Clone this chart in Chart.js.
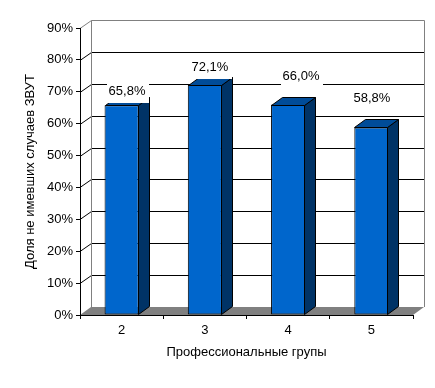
<!DOCTYPE html>
<html>
<head>
<meta charset="utf-8">
<script src="https://cdn.jsdelivr.net/npm/chart.js@4/dist/chart.umd.min.js"></script>
<style>
html,body{margin:0;padding:0;background:#fff;}
#wrap{width:435px;height:388px;}
</style>
</head>
<body>
<div id="wrap"><canvas id="c" width="435" height="388"></canvas></div>
<script>
// ---- data ----
const categories = ['2', '3', '4', '5'];
const shareValues = [65.8, 72.1, 66.0, 58.8];
const yTickValues = [0, 10, 20, 30, 40, 50, 60, 70, 80, 90];
const xAxisTitle = 'Профессиональные групы';
const yAxisTitle = 'Доля не имевших случаев ЗВУТ';

// ---- style ----
const FONT = "'Liberation Sans', Arial, sans-serif";
const DX = 11, DY = 8;                 // 3D depth of the wall / bars
const labelShiftX = [5.4, 5.1, 12.9, 0.6];
const labelLift = [13.7, 17.6, 28, 29.5];

function fmt(v) { return v.toFixed(1).replace('.', ',') + '%'; }

function poly(ctx, pts, fill, stroke) {
  ctx.beginPath();
  ctx.moveTo(pts[0][0], pts[0][1]);
  for (let i = 1; i < pts.length; i++) ctx.lineTo(pts[i][0], pts[i][1]);
  ctx.closePath();
  if (fill) { ctx.fillStyle = fill; ctx.fill(); }
  if (stroke) { ctx.strokeStyle = stroke; ctx.lineWidth = 1; ctx.stroke(); }
}

const threeD = {
  id: 'threeD',
  beforeDraw(chart) {
    const { ctx, chartArea: a, scales: { y } } = chart;
    const L = Math.round(a.left), R = Math.round(a.right), B = Math.round(a.bottom);
    ctx.save();
    ctx.fillStyle = '#fff';
    ctx.fillRect(0, 0, chart.width, chart.height);
    // floor
    poly(ctx, [[L, B], [L + DX, B - DY], [R + DX, B - DY], [R, B]], '#808080', null);
    // back-wall grid lines and side-wall diagonals
    ctx.lineWidth = 1;
    yTickValues.forEach(v => {
      if (v === 0) return;
      const py = Math.round(y.getPixelForValue(v)) + 0.5;
      ctx.strokeStyle = v === y.max ? '#808080' : '#000';
      ctx.beginPath();
      ctx.moveTo(L, py);
      ctx.lineTo(L + DX + 0.5, py - DY);
      ctx.lineTo(R + DX + 0.5, py - DY);
      ctx.stroke();
    });
    // wall edges
    const topY = Math.round(y.getPixelForValue(y.max)) + 0.5 - DY;
    const botY = B - DY;
    ctx.strokeStyle = '#808080';
    ctx.beginPath();
    ctx.moveTo(L + DX + 0.5, botY); ctx.lineTo(L + DX + 0.5, topY);
    ctx.moveTo(R + DX + 0.5, botY); ctx.lineTo(R + DX + 0.5, topY);
    ctx.stroke();
    ctx.restore();
  },
  afterDatasetsDraw(chart) {
    const { ctx } = chart;
    const meta = chart.getDatasetMeta(0);
    ctx.save();
    meta.data.forEach((bar) => {
      const p = bar.getProps(['x', 'y', 'base', 'width'], true);
      const l = Math.round(p.x - p.width / 2) + 0.5;
      const r = Math.round(p.x + p.width / 2) - 0.5;
      const t = Math.round(p.y) + 0.5;
      const b = Math.round(p.base) - 0.5;
      poly(ctx, [[r, t], [r + DX, t - DY], [r + DX, b - DY], [r, b]], '#003366', '#000');
      poly(ctx, [[l, t], [l + DX, t - DY], [r + DX, t - DY], [r, t]], '#004C99', '#000');
    });
    // data labels with white boxes
    ctx.font = '13px ' + FONT;
    ctx.textAlign = 'center';
    ctx.textBaseline = 'middle';
    meta.data.forEach((bar, i) => {
      const p = bar.getProps(['x', 'y'], true);
      const txt = fmt(shareValues[i]);
      const cx = p.x + labelShiftX[i];
      const cy = p.y - labelLift[i];
      const w = ctx.measureText(txt).width;
      ctx.fillStyle = '#fff';
      ctx.fillRect(Math.round(cx - w / 2 - 2), Math.round(cy - 10), Math.round(w + 5), 22);
      ctx.fillStyle = '#000';
      ctx.fillText(txt, cx, cy);
    });
    ctx.restore();
  }
};

new Chart(document.getElementById('c'), {
  type: 'bar',
  data: {
    labels: categories,
    datasets: [{
      data: shareValues,
      backgroundColor: '#0066CC',
      borderColor: '#000',
      borderWidth: 1,
      borderSkipped: false,
      categoryPercentage: 1,
      barPercentage: 0.41
    }]
  },
  options: {
    responsive: false,
    devicePixelRatio: 1,
    animation: false,
    layout: { padding: { top: 28, right: 22, left: 0, bottom: 0 } },
    plugins: { legend: { display: false }, tooltip: { enabled: false } },
    scales: {
      x: {
        offset: true,
        grid: { offset: true, drawOnChartArea: false, drawTicks: true, tickLength: 4, color: '#000' },
        border: { display: true, color: '#000' },
        ticks: { color: '#000', font: { family: FONT, size: 13 }, padding: 4, maxRotation: 0 },
        title: { display: true, text: xAxisTitle, color: '#000', font: { family: FONT, size: 13 }, padding: { top: 0, bottom: 28 } },
        afterFit(s) { s.height = 73; }
      },
      y: {
        min: 0, max: 90,
        afterBuildTicks(s) { s.ticks = yTickValues.map(v => ({ value: v })); },
        grid: { drawOnChartArea: false, drawTicks: true, tickLength: 4, color: '#000' },
        border: { display: true, color: '#000' },
        ticks: { color: '#000', font: { family: FONT, size: 13 }, padding: 3, callback: v => v + '%' },
        title: { display: true, text: yAxisTitle, color: '#000', font: { family: FONT, size: 13 }, padding: { top: 23, bottom: 0 } },
        afterFit(s) { s.width = 80; }
      }
    }
  },
  plugins: [threeD]
});
</script>
</body>
</html>
